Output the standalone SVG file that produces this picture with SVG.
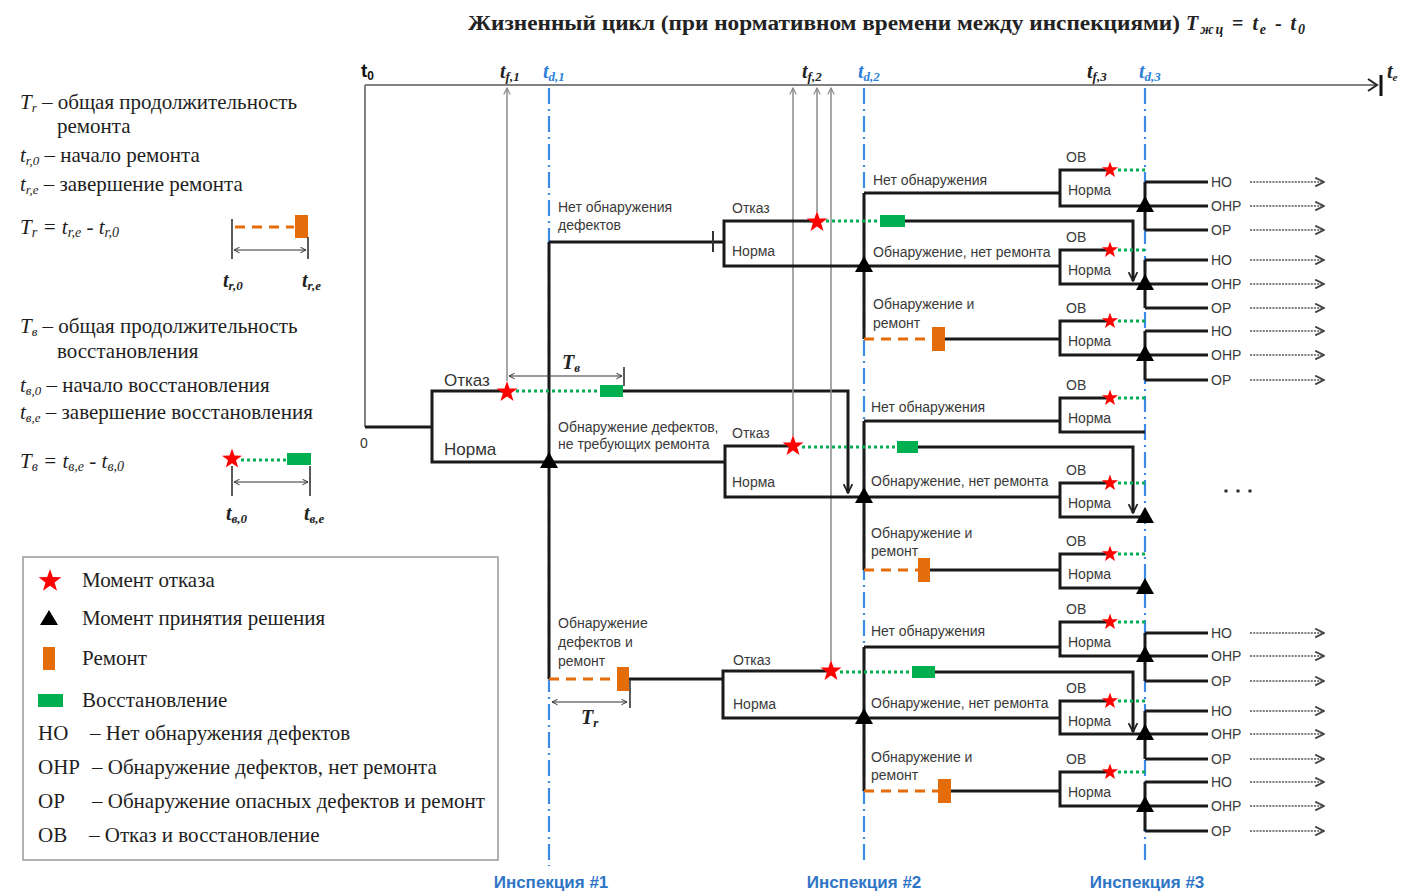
<svg xmlns="http://www.w3.org/2000/svg" width="1402" height="893" viewBox="0 0 1402 893">
<style>
.bl{stroke:#1a1a1a;stroke-width:3;fill:none}
.ax{stroke:#808080;stroke-width:2;fill:none}
.gv{stroke:#8a8a8a;stroke-width:1.5;fill:none;marker-end:url(#ga)}
.insp{stroke:#3d8be8;stroke-width:2.2;fill:none;stroke-dasharray:16 5 2 5}
.gd{stroke:#00b050;stroke-width:3;stroke-dasharray:3 3;fill:none}
.od{stroke:#e46c0a;stroke-width:3;stroke-dasharray:10 7;fill:none}
.dim{stroke:#333;stroke-width:1.2;fill:none;marker-start:url(#da);marker-end:url(#da)}
.tk{stroke:#333;stroke-width:1.6;fill:none}
.dv{stroke:#555;stroke-width:1.7;stroke-dasharray:2 1.2;fill:none;marker-end:url(#dva)}
.l{font-family:"Liberation Sans",Arial,sans-serif;font-size:14px;fill:#3a3a3a}
.big{font-family:"Liberation Sans",Arial,sans-serif;font-size:17px;fill:#333}
.ser{font-family:"Liberation Serif","Times New Roman",serif;font-size:21px;fill:#1e1e1e}
.leg{font-family:"Liberation Serif","Times New Roman",serif;font-size:21px;fill:#1e1e1e}
.it{font-style:italic}
.tl{font-family:"Liberation Serif","Times New Roman",serif;font-size:20px;font-style:italic;font-weight:bold;fill:#222}
.tb{font-family:"Liberation Serif","Times New Roman",serif;font-size:20px;font-style:italic;font-weight:bold;fill:#2e7fd9}
.ins{font-family:"Liberation Sans",Arial,sans-serif;font-size:17px;font-weight:bold;fill:#2e75c6}
.or{fill:#e46c0a}
.gr{fill:#00b050}
</style>
<defs>
<path id="star" d="M0,-10 L2.35,-3.24 L9.51,-3.09 L3.8,1.24 L5.88,8.09 L0,4 L-5.88,8.09 L-3.8,1.24 L-9.51,-3.09 L-2.35,-3.24 Z" fill="#ff0000"/>
<path id="tri" d="M0,-10 L9,6 L-9,6 Z" fill="#000"/>
<marker id="ga" viewBox="0 0 10 10" refX="9" refY="5" markerWidth="8" markerHeight="8" markerUnits="userSpaceOnUse" orient="auto"><path d="M1,1 L9,5 L1,9" fill="none" stroke="#8a8a8a" stroke-width="1.5"/></marker>
<marker id="bv" viewBox="0 0 10 10" refX="9" refY="5" markerWidth="11" markerHeight="11" markerUnits="userSpaceOnUse" orient="auto"><path d="M1,1 L9,5 L1,9" fill="none" stroke="#222" stroke-width="1.6"/></marker>
<marker id="da" viewBox="0 0 10 10" refX="9" refY="5" markerWidth="7" markerHeight="7" markerUnits="userSpaceOnUse" orient="auto-start-reverse"><path d="M1,1 L9,5 L1,9" fill="none" stroke="#333" stroke-width="1.4"/></marker>
<marker id="dva" viewBox="0 0 10 10" refX="9" refY="5" markerWidth="11" markerHeight="11" markerUnits="userSpaceOnUse" orient="auto"><path d="M1,1 L9,5 L1,9" fill="none" stroke="#444" stroke-width="1.6"/></marker>
</defs>
<rect width="1402" height="893" fill="#fff"/>

<!-- title -->
<g id="title">
<text x="468" y="30" font-family="Liberation Serif,serif" font-weight="bold" font-size="20" fill="#222" textLength="712" lengthAdjust="spacingAndGlyphs">Жизненный цикл (при нормативном времени между инспекциями)</text>
<text x="1186" y="30" class="tl" font-size="23" textLength="119" lengthAdjust="spacing">T<tspan font-size="14" dy="4">жц</tspan><tspan dy="-4" font-style="normal"> = </tspan>t<tspan font-size="14" dy="4">e</tspan><tspan dy="-4" font-style="normal"> - </tspan>t<tspan font-size="14" dy="4">0</tspan></text>
</g>

<!-- time axis -->
<g id="axis">
<line x1="365" y1="85" x2="1376" y2="85" class="ax"/>
<path d="M1368,79 L1377,85 L1368,91" fill="none" stroke="#222" stroke-width="2"/>
<line x1="1381" y1="75" x2="1381" y2="96" stroke="#111" stroke-width="3"/>
<text x="1387" y="78" class="tl" font-size="18">t<tspan font-size="11" dy="3">e</tspan></text>
<text x="361" y="77" font-family="Liberation Sans,Arial,sans-serif" font-weight="bold" font-size="19" fill="#111">t<tspan font-size="12" dy="3">0</tspan></text>
<text x="500" y="78" class="tl">t<tspan font-size="13" dy="3">f,1</tspan></text>
<text x="543" y="78" class="tb">t<tspan font-size="13" dy="3">d,1</tspan></text>
<text x="802" y="78" class="tl">t<tspan font-size="13" dy="3">f,2</tspan></text>
<text x="858" y="78" class="tb">t<tspan font-size="13" dy="3">d,2</tspan></text>
<text x="1087" y="78" class="tl">t<tspan font-size="13" dy="3">f,3</tspan></text>
<text x="1139" y="78" class="tb">t<tspan font-size="13" dy="3">d,3</tspan></text>
</g>

<!-- inspections -->
<g id="inspections">
<line x1="549" y1="88" x2="549" y2="866" class="insp"/>
<line x1="864" y1="88" x2="864" y2="862" class="insp"/>
<line x1="1145" y1="88" x2="1145" y2="862" class="insp"/>
<text x="551" y="888" class="ins" text-anchor="middle">Инспекция #1</text>
<text x="864" y="888" class="ins" text-anchor="middle">Инспекция #2</text>
<text x="1147" y="888" class="ins" text-anchor="middle">Инспекция #3</text>
</g>

<!-- left definitions -->
<g id="def-repair">
<text x="20" y="109" class="ser"><tspan class="it">T</tspan><tspan class="it" font-size="13" dy="3">r</tspan><tspan dy="-3"> – общая продолжительность</tspan></text>
<text x="57" y="133" class="ser">ремонта</text>
<text x="20" y="162" class="ser"><tspan class="it">t</tspan><tspan class="it" font-size="13" dy="3">r,0</tspan><tspan dy="-3"> – начало ремонта</tspan></text>
<text x="20" y="191" class="ser"><tspan class="it">t</tspan><tspan class="it" font-size="13" dy="3">r,e</tspan><tspan dy="-3"> – завершение ремонта</tspan></text>
<text x="20" y="234" class="ser it" font-size="22">T<tspan font-size="14" dy="3">r</tspan><tspan dy="-3"> = t</tspan><tspan font-size="14" dy="3">r,e</tspan><tspan dy="-3"> - t</tspan><tspan font-size="14" dy="3">r,0</tspan></text>
<line x1="232" y1="219" x2="232" y2="259" class="tk"/>
<line x1="235" y1="227" x2="294" y2="227" class="od"/>
<rect x="295" y="215" width="13" height="23" class="or"/>
<line x1="308" y1="237" x2="308" y2="259" class="tk"/>
<line x1="234" y1="250" x2="306" y2="250" class="dim"/>
<text x="223" y="287" class="tl" font-size="20">t<tspan font-size="13" dy="3">r,0</tspan></text>
<text x="302" y="287" class="tl" font-size="20">t<tspan font-size="13" dy="3">r,e</tspan></text>
</g>
<g id="def-restore">
<text x="20" y="333" class="ser"><tspan class="it">T</tspan><tspan class="it" font-size="13" dy="3">в</tspan><tspan dy="-3"> – общая продолжительность</tspan></text>
<text x="57" y="358" class="ser">восстановления</text>
<text x="20" y="392" class="ser"><tspan class="it">t</tspan><tspan class="it" font-size="13" dy="3">в,0</tspan><tspan dy="-3"> – начало восстановления</tspan></text>
<text x="20" y="419" class="ser"><tspan class="it">t</tspan><tspan class="it" font-size="13" dy="3">в,e</tspan><tspan dy="-3"> – завершение восстановления</tspan></text>
<text x="20" y="468" class="ser it" font-size="22">T<tspan font-size="14" dy="3">в</tspan><tspan dy="-3"> = t</tspan><tspan font-size="14" dy="3">в,e</tspan><tspan dy="-3"> - t</tspan><tspan font-size="14" dy="3">в,0</tspan></text>
<use href="#star" transform="translate(232,459) scale(1.05)"/>
<line x1="241" y1="460" x2="287" y2="460" class="gd"/>
<rect x="287" y="453" width="24" height="12" class="gr"/>
<line x1="232" y1="466" x2="232" y2="496" class="tk"/>
<line x1="310" y1="466" x2="310" y2="496" class="tk"/>
<line x1="234" y1="482" x2="308" y2="482" class="dim"/>
<text x="226" y="520" class="tl" font-size="20">t<tspan font-size="13" dy="3">в,0</tspan></text>
<text x="304" y="520" class="tl" font-size="20">t<tspan font-size="13" dy="3">в,e</tspan></text>
</g>

<!-- legend -->
<g id="legend">
<rect x="23" y="557" width="475" height="303" fill="none" stroke="#999" stroke-width="1.5"/>
<use href="#star" transform="translate(50,581) scale(1.2)"/>
<text x="82" y="587" class="leg">Момент отказа</text>
<path d="M49,610 L58,625 L40,625 Z" fill="#000"/>
<text x="82" y="625" class="leg">Момент принятия решения</text>
<rect x="43" y="647" width="12" height="23" class="or"/>
<text x="82" y="665" class="leg">Ремонт</text>
<rect x="38" y="694" width="25" height="13" class="gr"/>
<text x="82" y="707" class="leg">Восстановление</text>
<text x="38" y="740" class="leg">НО</text><text x="90" y="740" class="leg">– Нет обнаружения дефектов</text>
<text x="38" y="774" class="leg">ОНР</text><text x="92" y="774" class="leg">– Обнаружение дефектов, нет ремонта</text>
<text x="38" y="808" class="leg">ОР</text><text x="92" y="808" class="leg">– Обнаружение опасных дефектов и ремонт</text>
<text x="38" y="842" class="leg">ОВ</text><text x="89" y="842" class="leg">– Отказ и восстановление</text>
</g>

<!-- connectors -->
<g id="connectors">
<path d="M365,85 V427" class="ax"/>
<path d="M365,427 H432" class="bl"/>
<path d="M549,462 H725" class="bl"/>
<path d="M623,391 H848 V493" class="bl" marker-end="url(#bv)"/>
<path d="M549,242 V679" class="bl"/>
<path d="M549,242 H724" class="bl"/>
<line x1="713" y1="231" x2="713" y2="252" stroke="#333" stroke-width="2"/>
<line x1="549" y1="679" x2="617" y2="679" class="od"/>
<path d="M629,679 H723" class="bl"/>
<path d="M905,221 H1133 V281" class="bl" marker-end="url(#bv)"/>
<path d="M864,193 V339" class="bl"/>
<path d="M864,193 H1060" class="bl"/>
<line x1="864" y1="339" x2="932" y2="339" class="od"/>
<path d="M945,339 H1060" class="bl"/>
<path d="M918,447 H1133 V513" class="bl" marker-end="url(#bv)"/>
<path d="M864,421 V570" class="bl"/>
<path d="M864,421 H1060" class="bl"/>
<line x1="864" y1="570" x2="918" y2="570" class="od"/>
<path d="M930,570 H1060" class="bl"/>
<path d="M935,672 H1133 V732" class="bl" marker-end="url(#bv)"/>
<path d="M864,647 V791" class="bl"/>
<path d="M864,647 H1060" class="bl"/>
<line x1="864" y1="791" x2="938" y2="791" class="od"/>
<path d="M951,791 H1060" class="bl"/>
<!-- failure time projections -->
<path d="M507,381 V88" class="gv"/>
<path d="M793,436 V88" class="gv"/>
<path d="M817,212 V88" class="gv"/>
<path d="M831,661 V88" class="gv"/>
<!-- outputs at inspection 3 -->
<path d="M1145,182 V230 M1145,182 H1208 M1145,230 H1208" class="bl"/>
<path d="M1145,260 V308 M1145,260 H1208 M1145,308 H1208" class="bl"/>
<path d="M1145,331 V380 M1145,331 H1208 M1145,380 H1208" class="bl"/>
<path d="M1145,633 V681 M1145,633 H1208 M1145,681 H1208" class="bl"/>
<path d="M1145,711 V759 M1145,711 H1208 M1145,759 H1208" class="bl"/>
<path d="M1145,782 V831 M1145,782 H1208 M1145,831 H1208" class="bl"/>
<path d="M1250,182 H1324" class="dv"/><path d="M1250,206 H1324" class="dv"/><path d="M1250,230 H1324" class="dv"/>
<path d="M1250,260 H1324" class="dv"/><path d="M1250,284 H1324" class="dv"/><path d="M1250,308 H1324" class="dv"/>
<path d="M1250,331 H1324" class="dv"/><path d="M1250,355 H1324" class="dv"/><path d="M1250,380 H1324" class="dv"/>
<path d="M1250,633 H1324" class="dv"/><path d="M1250,656 H1324" class="dv"/><path d="M1250,681 H1324" class="dv"/>
<path d="M1250,711 H1324" class="dv"/><path d="M1250,734 H1324" class="dv"/><path d="M1250,759 H1324" class="dv"/>
<path d="M1250,782 H1324" class="dv"/><path d="M1250,806 H1324" class="dv"/><path d="M1250,831 H1324" class="dv"/>
</g>

<!-- root node -->
<g id="node-root">
<path d="M507,391 H432 V462 H549" class="bl"/>
<line x1="516" y1="391" x2="600" y2="391" class="gd"/>
<rect x="600" y="385" width="23" height="12" class="gr"/>
<use href="#star" transform="translate(507,392) scale(1.1)"/>
<text x="444" y="386" class="big">Отказ</text>
<text x="444" y="455" class="big">Норма</text>
<text x="360" y="448" class="l" font-size="15">0</text>
<line x1="509" y1="376" x2="622" y2="376" class="dim"/>
<line x1="624" y1="367" x2="624" y2="386" class="tk"/>
<text x="562" y="369" class="tl" font-size="20" font-weight="normal">T<tspan font-size="13" dy="3">в</tspan></text>
<use href="#tri" x="549" y="462"/>
</g>

<!-- inspection 1 decisions -->
<g id="node-insp1">
<text x="558" y="212" class="l">Нет обнаружения</text>
<text x="558" y="230" class="l">дефектов</text>
<text x="558" y="432" class="l">Обнаружение дефектов,</text>
<text x="558" y="449" class="l">не требующих ремонта</text>
<text x="558" y="628" class="l">Обнаружение</text>
<text x="558" y="647" class="l">дефектов и</text>
<text x="558" y="666" class="l">ремонт</text>
<rect x="617" y="667" width="12" height="24" class="or"/>
<line x1="552" y1="702" x2="627" y2="702" class="dim"/>
<line x1="630" y1="680" x2="630" y2="708" class="tk"/>
<text x="581" y="724" class="tl" font-size="20" font-weight="normal">T<tspan font-size="13" dy="3">r</tspan></text>
</g>

<!-- second level nodes -->
<g id="node-a">
<path d="M817,221 H724 V266 H1060" class="bl"/>
<line x1="826" y1="221" x2="880" y2="221" class="gd"/>
<rect x="880" y="215" width="25" height="12" class="gr"/>
<use href="#star" transform="translate(817,222) scale(1.1)"/>
<text x="732" y="213" class="l">Отказ</text>
<text x="732" y="256" class="l">Норма</text>
</g>
<g id="node-b">
<path d="M793,446 H725 V497 H1060" class="bl"/>
<line x1="802" y1="447" x2="897" y2="447" class="gd"/>
<rect x="897" y="441" width="21" height="12" class="gr"/>
<use href="#star" transform="translate(793,446) scale(1.1)"/>
<text x="732" y="438" class="l">Отказ</text>
<text x="732" y="487" class="l">Норма</text>
</g>
<g id="node-c">
<path d="M831,671 H723 V718 H1060" class="bl"/>
<line x1="840" y1="672" x2="912" y2="672" class="gd"/>
<rect x="912" y="666" width="23" height="12" class="gr"/>
<use href="#star" transform="translate(831,671) scale(1.1)"/>
<text x="733" y="665" class="l">Отказ</text>
<text x="733" y="709" class="l">Норма</text>
</g>

<!-- inspection 2 decisions -->
<g id="node-insp2">
<use href="#tri" x="864" y="266"/>
<use href="#tri" x="864" y="497"/>
<use href="#tri" x="864" y="718"/>
<text x="873" y="185" class="l">Нет обнаружения</text>
<text x="873" y="257" class="l">Обнаружение, нет ремонта</text>
<text x="873" y="309" class="l">Обнаружение и</text>
<text x="873" y="328" class="l">ремонт</text>
<rect x="932" y="327" width="13" height="24" class="or"/>
<text x="871" y="412" class="l">Нет обнаружения</text>
<text x="871" y="486" class="l">Обнаружение, нет ремонта</text>
<text x="871" y="538" class="l">Обнаружение и</text>
<text x="871" y="556" class="l">ремонт</text>
<rect x="918" y="558" width="12" height="24" class="or"/>
<text x="871" y="636" class="l">Нет обнаружения</text>
<text x="871" y="708" class="l">Обнаружение, нет ремонта</text>
<text x="871" y="762" class="l">Обнаружение и</text>
<text x="871" y="780" class="l">ремонт</text>
<rect x="938" y="779" width="13" height="24" class="or"/>
</g>

<!-- third level nodes -->
<g id="node-1">
<path d="M1110,170 H1060 V206 H1208" class="bl"/>
<line x1="1118" y1="170" x2="1145" y2="170" class="gd"/>
<use href="#star" transform="translate(1110,170) scale(0.85)"/>
<text x="1066" y="162" class="l">ОВ</text><text x="1068" y="195" class="l">Норма</text>
<use href="#tri" x="1145" y="206"/>
</g>
<g id="node-2">
<path d="M1110,250 H1060 V284 H1208" class="bl"/>
<line x1="1118" y1="250" x2="1145" y2="250" class="gd"/>
<use href="#star" transform="translate(1110,250) scale(0.85)"/>
<text x="1066" y="242" class="l">ОВ</text><text x="1068" y="275" class="l">Норма</text>
<use href="#tri" x="1145" y="284"/>
</g>
<g id="node-3">
<path d="M1110,321 H1060 V355 H1208" class="bl"/>
<line x1="1118" y1="321" x2="1145" y2="321" class="gd"/>
<use href="#star" transform="translate(1110,321) scale(0.85)"/>
<text x="1066" y="313" class="l">ОВ</text><text x="1068" y="346" class="l">Норма</text>
<use href="#tri" x="1145" y="355"/>
</g>
<g id="node-4">
<path d="M1110,398 H1060 V432 H1145" class="bl"/>
<line x1="1118" y1="398" x2="1145" y2="398" class="gd"/>
<use href="#star" transform="translate(1110,398) scale(0.85)"/>
<text x="1066" y="390" class="l">ОВ</text><text x="1068" y="423" class="l">Норма</text>
</g>
<g id="node-5">
<path d="M1110,483 H1060 V517 H1145" class="bl"/>
<line x1="1118" y1="483" x2="1145" y2="483" class="gd"/>
<use href="#star" transform="translate(1110,483) scale(0.85)"/>
<text x="1066" y="475" class="l">ОВ</text><text x="1068" y="508" class="l">Норма</text>
<use href="#tri" x="1145" y="517"/>
</g>
<g id="node-6">
<path d="M1110,554 H1060 V588 H1145" class="bl"/>
<line x1="1118" y1="554" x2="1145" y2="554" class="gd"/>
<use href="#star" transform="translate(1110,554) scale(0.85)"/>
<text x="1066" y="546" class="l">ОВ</text><text x="1068" y="579" class="l">Норма</text>
<use href="#tri" x="1145" y="588"/>
</g>
<g id="node-7">
<path d="M1110,622 H1060 V656 H1208" class="bl"/>
<line x1="1118" y1="622" x2="1145" y2="622" class="gd"/>
<use href="#star" transform="translate(1110,622) scale(0.85)"/>
<text x="1066" y="614" class="l">ОВ</text><text x="1068" y="647" class="l">Норма</text>
<use href="#tri" x="1145" y="656"/>
</g>
<g id="node-8">
<path d="M1110,701 H1060 V734 H1208" class="bl"/>
<line x1="1118" y1="701" x2="1145" y2="701" class="gd"/>
<use href="#star" transform="translate(1110,701) scale(0.85)"/>
<text x="1066" y="693" class="l">ОВ</text><text x="1068" y="726" class="l">Норма</text>
<use href="#tri" x="1145" y="734"/>
</g>
<g id="node-9">
<path d="M1110,772 H1060 V806 H1208" class="bl"/>
<line x1="1118" y1="772" x2="1145" y2="772" class="gd"/>
<use href="#star" transform="translate(1110,772) scale(0.85)"/>
<text x="1066" y="764" class="l">ОВ</text><text x="1068" y="797" class="l">Норма</text>
<use href="#tri" x="1145" y="806"/>
</g>

<!-- outcome labels -->
<g id="outcomes">
<text x="1211" y="187" class="l">НО</text><text x="1211" y="211" class="l">ОНР</text><text x="1211" y="235" class="l">ОР</text>
<text x="1211" y="265" class="l">НО</text><text x="1211" y="289" class="l">ОНР</text><text x="1211" y="313" class="l">ОР</text>
<text x="1211" y="336" class="l">НО</text><text x="1211" y="360" class="l">ОНР</text><text x="1211" y="385" class="l">ОР</text>
<text x="1211" y="638" class="l">НО</text><text x="1211" y="661" class="l">ОНР</text><text x="1211" y="686" class="l">ОР</text>
<text x="1211" y="716" class="l">НО</text><text x="1211" y="739" class="l">ОНР</text><text x="1211" y="764" class="l">ОР</text>
<text x="1211" y="787" class="l">НО</text><text x="1211" y="811" class="l">ОНР</text><text x="1211" y="836" class="l">ОР</text>
<circle cx="1226" cy="491" r="1.8" fill="#333"/>
<circle cx="1238" cy="491" r="1.8" fill="#333"/>
<circle cx="1250" cy="491" r="1.8" fill="#333"/>
</g>
</svg>
